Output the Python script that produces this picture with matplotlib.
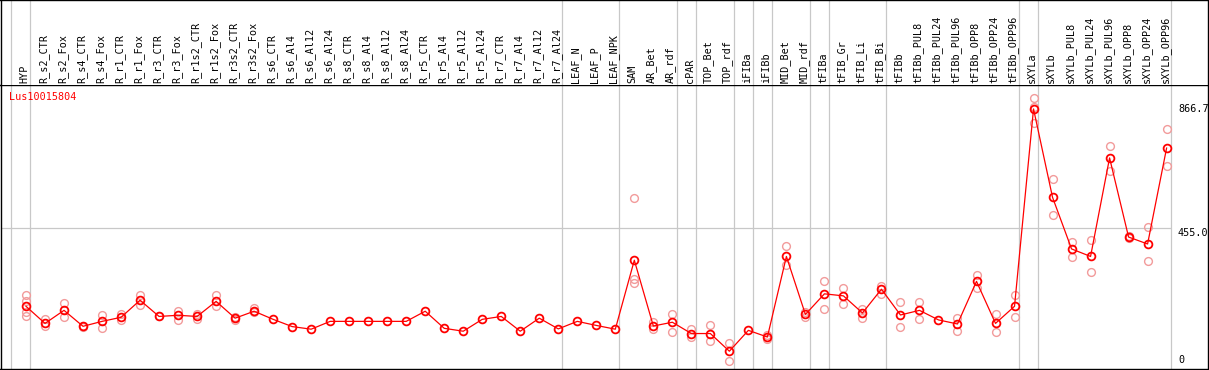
import matplotlib.pyplot as plt
import matplotlib.transforms as mtransforms

# sample labels, left to right
labels = [
    "HYP",
    "R_s2_CTR", "R_s2_Fox", "R_s4_CTR", "R_s4_Fox", "R_r1_CTR", "R_r1_Fox",
    "R_r3_CTR", "R_r3_Fox", "R_r1s2_CTR", "R_r1s2_Fox", "R_r3s2_CTR", "R_r3s2_Fox",
    "R_s6_CTR", "R_s6_Al4", "R_s6_Al12", "R_s6_Al24",
    "R_s8_CTR", "R_s8_Al4", "R_s8_Al12", "R_s8_Al24",
    "R_r5_CTR", "R_r5_Al4", "R_r5_Al12", "R_r5_Al24",
    "R_r7_CTR", "R_r7_Al4", "R_r7_Al12", "R_r7_Al24",
    "LEAF_N", "LEAF_P", "LEAF_NPK",
    "SAM", "AR_Bet", "AR_rdf",
    "cPAR",
    "TOP_Bet", "TOP_rdf",
    "iFIBa",
    "iFIBb",
    "MID_Bet", "MID_rdf",
    "tFIBa",
    "tFIB_Gr", "tFIB_Li", "tFIB_Bi",
    "tFIBb", "tFIBb_PUL8", "tFIBb_PUL24", "tFIBb_PUL96", "tFIBb_OPP8", "tFIBb_OPP24", "tFIBb_OPP96",
    "sXYLa",
    "sXYLb", "sXYLb_PUL8", "sXYLb_PUL24", "sXYLb_PUL96", "sXYLb_OPP8", "sXYLb_OPP24", "sXYLb_OPP96",
]

# number of samples in each tissue group (separated by grey lines)
group_sizes = [1, 28, 3, 3, 1, 2, 1, 1, 2, 1, 3, 7, 1, 7]

# mean expression per sample
means = [
    186,
    127, 172, 117, 134, 148, 207, 151, 155, 151, 203, 145, 169,
    141, 116, 107, 134,
    134, 134, 134, 134,
    169, 110, 100, 141,
    151, 100, 145, 108,
    134, 120, 107,
    345, 118, 131,
    92,
    92, 31,
    103,
    80,
    358, 158,
    229,
    222, 163, 245,
    156, 172, 139, 125, 272, 127, 186,
    867,
    562, 384, 358, 698, 425, 401, 732,
]

# individual replicates
replicates = [
    [224, 205, 167, 152],
    [141, 118], [197, 148], [119, 115], [155, 112], [160, 139], [224, 190],
    [151], [171, 139], [158, 141], [224, 188], [148, 138], [179, 165],
    [], [], [], [],
    [], [], [], [],
    [], [], [], [],
    [], [], [], [],
    [], [], [],
    [559, 281, 265], [131, 109], [158, 98],
    [109, 79],
    [121, 67], [60, -2],
    [],
    [86, 72],
    [394, 328], [165, 150],
    [272, 176],
    [248, 194], [178, 146], [256, 227],
    [200, 115], [200, 142], [], [147, 100], [294, 248], [158, 96], [225, 148],
    [904, 875, 818],
    [625, 501], [408, 355], [414, 303], [738, 653], [430, 420], [459, 341], [797, 669],
]

gene = "Lus10015804"
right_ticks = [866.7, 455.0, 0]
right_tick_text = ["866.7", "455.0", "0"]
grid_value = 455.0

mono = "DejaVu Sans Mono"
grey = "#c8c8c8"
pink = "#f29b9b"

W, H = 1209, 370
fig = plt.figure(figsize=(W / 100, H / 100), dpi=100)

x0, x1 = 0.5, 1208.0     # px, frame left/right
sep = 85.0               # px from top, label/plot separator
bot = 369.0              # px from top, bottom frame
ax = fig.add_axes([x0 / W, (H - bot) / H, (x1 - x0) / W, (bot - sep) / H])
lab = fig.add_axes([x0 / W, (H - sep) / H, (x1 - x0) / W, sep / H], sharex=ax)

step = 19.01
ax.set_xlim((x0 - 26) / step, (x1 - 26) / step)
ax.set_ylim((360.2 - bot) / 0.2898, (360.2 - sep) / 0.2898)
lab.set_ylim(0, 1)

for a in (ax, lab):
    a.set_xticks([])
    a.set_yticks([])
    for s in a.spines.values():
        s.set_linewidth(1.0)
        s.set_color("black")
lab.spines["bottom"].set_visible(False)

# group separators
bounds = [-1]
for g in group_sizes:
    bounds.append(bounds[-1] + g)
for b in bounds:
    for a in (ax, lab):
        a.axvline(b + 0.22, color=grey, lw=0.9, zorder=0)

ax.hlines(grid_value, ax.get_xlim()[0], bounds[-1] + 0.22, color=grey, lw=0.9, zorder=0)

xs = list(range(len(labels)))

# replicate points
for i, reps in enumerate(replicates):
    if reps:
        ax.plot([i] * len(reps), reps, ls="none", marker="o", ms=5.6,
                mfc="none", mec=pink, mew=1.0, zorder=2)

ax.plot(xs, means, color="red", lw=0.9, marker="o", ms=5.6,
        mfc="none", mec="red", mew=1.3, zorder=3)

# sample labels
for i, name in enumerate(labels):
    lab.text(i - 0.08, 2.0 / sep, name, rotation=90, ha="center", va="bottom",
             family=mono, fontsize=7.3, color="black")

ax.text(0.0073, 0.956, gene, transform=ax.transAxes, ha="left", va="center",
        family=mono, fontsize=7.3, color="red")

tr = mtransforms.blended_transform_factory(ax.transAxes, ax.transData)
xr = (1178 - x0) / (x1 - x0)
for v, t in zip(right_ticks, right_tick_text):
    ax.text(xr, v, t, transform=tr, ha="left", va="top" if v == grid_value else "center",
            family=mono, fontsize=7.3, color="black")

fig.savefig("out.png", dpi=100)
